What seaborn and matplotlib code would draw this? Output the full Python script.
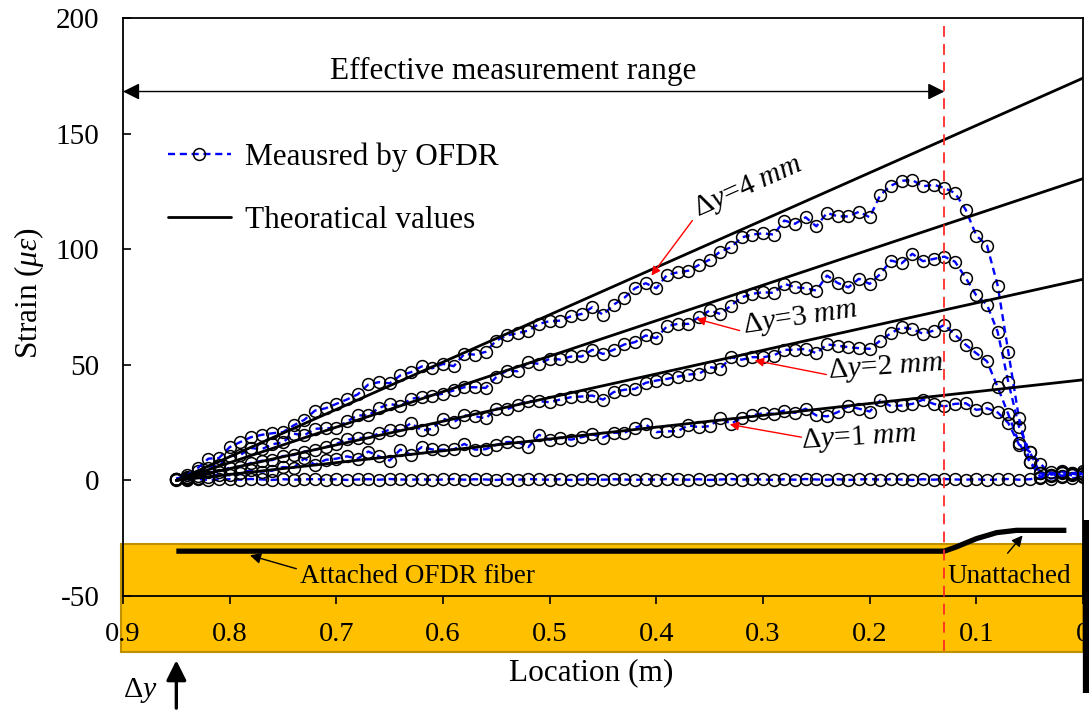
import matplotlib
matplotlib.use("Agg")
import matplotlib.pyplot as plt
import numpy as np
import pandas as pd
import seaborn as sns
from matplotlib.patches import Rectangle
from matplotlib.lines import Line2D

# ---------------- data ----------------
location = [0.85, 0.84, 0.83, 0.82, 0.81, 0.80, 0.79, 0.78, 0.77, 0.76,
            0.75, 0.74, 0.73, 0.72, 0.71, 0.70, 0.69, 0.68, 0.67, 0.66,
            0.65, 0.64, 0.63, 0.62, 0.61, 0.60, 0.59, 0.58, 0.57, 0.56,
            0.55, 0.54, 0.53, 0.52, 0.51, 0.50, 0.49, 0.48, 0.47, 0.46,
            0.45, 0.44, 0.43, 0.42, 0.41, 0.40, 0.39, 0.38, 0.37, 0.36,
            0.35, 0.34, 0.33, 0.32, 0.31, 0.30, 0.29, 0.28, 0.27, 0.26,
            0.25, 0.24, 0.23, 0.22, 0.21, 0.20, 0.19, 0.18, 0.17, 0.16,
            0.15, 0.14, 0.13, 0.12, 0.11, 0.10, 0.09, 0.08, 0.07, 0.06,
            0.05, 0.04, 0.03, 0.02, 0.01, 0.00]

measured_dy0 = [0.5, 0.3, 0.6, 0.2, 0.4, 0.5, 0.3, 0.6, 0.4, 0.2,
                0.5, 0.3, 0.4, 0.6, 0.3, 0.5, 0.2, 0.4, 0.5, 0.3,
                0.6, 0.4, 0.3, 0.5, 0.2, 0.4, 0.6, 0.3, 0.5, 0.4,
                0.2, 0.5, 0.3, 0.6, 0.4, 0.3, 0.5, 0.2, 0.4, 0.6,
                0.3, 0.5, 0.4, 0.2, 0.5, 0.3, 0.6, 0.4, 0.3, 0.5,
                0.2, 0.4, 0.6, 0.3, 0.5, 0.4, 0.2, 0.5, 0.3, 0.6,
                0.4, 0.3, 0.5, 0.2, 0.4, 0.6, 0.3, 0.5, 0.4, 0.2,
                0.5, 0.3, 0.6, 0.4, 0.3, 0.5, 0.2, 0.4, 0.6, 0.3,
                0.5, 1.2, 0.8, 1.5, 1.0, 1.3]

measured_dy1 = [0.3, 0.6, 1.0, 1.5, 2.5, 2.2, 3.0, 4.5, 3.8, 4.2,
                5.8, 5.5, 9.5, 6.8, 8.9, 9.4, 10.4, 9.4, 12.5, 10.4,
                8.6, 13.3, 11.1, 14.4, 13.4, 13.3, 13.4, 15.8, 13.3, 13.5,
                15.4, 16.6, 16.6, 14.4, 19.7, 17.6, 18.5, 17.6, 18.7, 19.9,
                18.5, 20.6, 20.6, 22.8, 24.2, 20.9, 21.2, 21.3, 23.8, 23.0,
                23.5, 26.9, 24.5, 27.1, 28.1, 29.1, 28.8, 30.2, 29.2, 31.0,
                28.1, 27.7, 29.5, 32.1, 31.0, 29.8, 34.6, 32.1, 32.4, 33.1,
                34.9, 33.1, 32.0, 33.1, 33.4, 30.5, 31.2, 29.4, 24.8, 15.5,
                12.4, 7.3, 2.5, 4.0, 3.0, 4.2]

measured_dy2 = [0.5, 1.2, 2.0, 3.5, 3.8, 5.5, 6.0, 7.5, 8.5, 8.8,
                10.5, 11.0, 12.5, 13.2, 14.4, 15.8, 17.7, 18.4, 18.3, 20.4,
                21.9, 21.6, 24.8, 21.6, 22.3, 26.7, 25.2, 28.1, 27.8, 26.8,
                31.0, 30.7, 32.8, 34.3, 34.3, 33.8, 35.0, 36.0, 36.3, 36.7,
                34.9, 38.2, 39.2, 39.6, 42.2, 43.2, 43.9, 44.9, 45.8, 46.1,
                49.0, 48.3, 53.3, 52.2, 53.3, 53.3, 54.0, 56.5, 56.5, 56.9,
                55.0, 58.8, 58.3, 57.6, 57.2, 56.9, 60.5, 63.7, 66.2, 65.5,
                63.4, 64.8, 67.3, 63.0, 58.7, 55.0, 51.5, 40.4, 28.6, 16.3,
                8.0, 1.5, 3.5, 2.0, 3.0, 1.8]

measured_dy3 = [0.8, 1.5, 4.0, 5.5, 6.5, 10.5, 11.0, 14.0, 13.5, 15.6,
                16.5, 20.2, 19.5, 22.3, 22.6, 22.6, 25.5, 28.1, 28.1, 31.3,
                33.1, 32.1, 35.3, 36.0, 36.7, 37.5, 38.9, 40.3, 40.3, 40.0,
                44.7, 47.5, 47.2, 51.1, 50.4, 52.6, 52.3, 53.6, 53.6, 56.5,
                54.7, 56.5, 58.8, 59.8, 62.7, 61.5, 66.7, 67.7, 67.7, 70.6,
                73.5, 72.0, 75.6, 79.2, 80.7, 81.4, 81.1, 85.0, 83.6, 83.1,
                82.1, 88.6, 85.4, 83.5, 87.2, 85.0, 89.3, 95.1, 93.9, 98.0,
                94.8, 95.8, 96.8, 94.6, 87.6, 80.0, 76.0, 64.2, 42.5, 23.2,
                12.4, 3.0, 2.0, 3.0, 2.2, 2.8]

measured_dy4 = [0.7, 2.2, 5.3, 9.4, 9.7, 14.4, 16.6, 18.7, 19.7, 20.4,
                20.9, 23.8, 26.2, 30.2, 31.2, 33.1, 35.0, 37.2, 41.5, 42.5,
                42.0, 45.4, 46.8, 49.3, 48.5, 50.4, 49.4, 54.7, 54.4, 55.6,
                60.5, 62.7, 63.7, 64.8, 67.7, 68.9, 69.1, 71.0, 72.0, 74.9,
                71.6, 76.0, 79.0, 83.1, 85.3, 83.1, 88.9, 90.0, 90.7, 93.2,
                95.5, 99.0, 100.8, 105.1, 106.3, 106.9, 106.3, 112.4, 111.0, 113.8,
                109.9, 115.7, 114.2, 114.2, 116.2, 113.8, 123.5, 127.5, 129.6, 129.9,
                127.2, 127.9, 126.5, 124.3, 117.1, 105.9, 101.6, 84.3, 55.5, 26.8,
                8.1, 3.0, 2.5, 3.5, 2.8, 3.2]

theory_location = [0.85, 0.0]
theory_dy1 = [0.0, 43.5]
theory_dy2 = [0.0, 87.0]
theory_dy3 = [0.0, 130.5]
theory_dy4 = [0.0, 174.0]

boundary_location = 0.13          # end of attached fiber
fiber_location = [0.85, 0.13, 0.119, 0.10, 0.081, 0.0625, 0.0156]
fiber_level = [-30.6, -30.6, -28.8, -25.2, -22.6, -21.6, -21.6]

x_ticks = [0.9, 0.8, 0.7, 0.6, 0.5, 0.4, 0.3, 0.2, 0.1, 0.0]
x_tick_labels = ["0.9", "0.8", "0.7", "0.6", "0.5", "0.4", "0.3", "0.2", "0.1", "0"]
y_ticks = [-50, 0, 50, 100, 150, 200]

# ---------------- style ----------------
sns.set_theme(style="ticks", rc={
    "axes.edgecolor": "black", "text.color": "black",
    "axes.labelcolor": "black", "xtick.color": "black", "ytick.color": "black",
})
plt.rcParams["font.family"] = ["Liberation Serif", "DejaVu Serif"]
plt.rcParams["axes.unicode_minus"] = False
plt.rcParams["mathtext.fontset"] = "custom"
plt.rcParams["mathtext.rm"] = "Liberation Serif"
plt.rcParams["mathtext.it"] = "Liberation Serif:italic"
plt.rcParams["mathtext.bf"] = "Liberation Serif:bold"

fig = plt.figure(figsize=(10.89, 7.11), dpi=100)
ax = fig.add_axes([0.11295, 0.16174, 0.88154, 0.81294])

# ---------------- measured ----------------
meas = pd.concat([
    pd.DataFrame({"loc": location, "strain": vals, "series": name})
    for name, vals in [("0", measured_dy0), ("1", measured_dy1), ("2", measured_dy2),
                       ("3", measured_dy3), ("4", measured_dy4)]
], ignore_index=True)

sns.lineplot(data=meas, x="loc", y="strain", units="series", estimator=None, sort=False,
             color="#0000FF", linestyle=(0, (3, 2)), linewidth=1.7,
             marker="o", markersize=8.5, markerfacecolor="none",
             markeredgecolor="black", markeredgewidth=1.1,
             legend=False, ax=ax, zorder=3)

# ---------------- theory ----------------
theo = pd.concat([
    pd.DataFrame({"loc": theory_location, "strain": vals, "dy": name})
    for name, vals in [("1", theory_dy1), ("2", theory_dy2), ("3", theory_dy3), ("4", theory_dy4)]
], ignore_index=True)
sns.lineplot(data=theo, x="loc", y="strain", units="dy", estimator=None, sort=False,
             color="black", linewidth=2.0, legend=False, ax=ax, zorder=4)

# ---------------- axes ----------------
ax.set_xlim(0.9, 0.0)
ax.set_ylim(-50, 200)
ax.set_xticks(x_ticks)
ax.set_xticklabels(x_tick_labels)
ax.set_yticks(y_ticks)
ax.tick_params(axis="x", direction="out", length=5.5, width=1.2, pad=13, labelsize=20.5)
ax.tick_params(axis="y", direction="in", length=6, width=1.2, pad=17, labelsize=21)
for s in ax.spines.values():
    s.set_visible(True)
    s.set_linewidth(1.3)
    s.set_color("black")

ax.set_xlabel("Location (m)", fontsize=22.5)
ax.xaxis.set_label_coords(0.488, -0.107)
ax.set_ylabel(r"Strain ($\mu\varepsilon$)", fontsize=22.5)
ax.yaxis.set_label_coords(-0.080, 0.524)

# orange specimen band
ax.add_patch(Rectangle((0.0, -74.2), 0.902, 46.7, facecolor="#FFC000",
                       edgecolor="#BF9000", linewidth=1.5, clip_on=False, zorder=0.5))

# fiber
ax.plot(fiber_location, fiber_level, color="black", lw=3.8, zorder=5,
        solid_capstyle="butt")

# boundary line
ax.plot([boundary_location, boundary_location], [196.5, -74.2], color="#FF2A2A",
        ls=(0, (6, 4)), lw=1.3, clip_on=False, zorder=6)

# right fixed end bar
ax.plot([-0.0028, -0.0028], [-17.3, -92.0], color="black", lw=4.5,
        clip_on=False, solid_capstyle="butt", zorder=7)

# effective range
ax.annotate("", xy=(0.9, 168.2), xytext=(boundary_location, 168.2),
            arrowprops=dict(arrowstyle="<|-|>", color="black", lw=1.0,
                            mutation_scale=25, shrinkA=0, shrinkB=0))
ax.text(0.534, 173.7, "Effective measurement range", ha="center", va="baseline",
        fontsize=22.5)

# legend
handles = [Line2D([], [], color="#0000FF", ls=(0, (3, 2)), lw=1.7, marker="o", ms=8.5,
                  mfc="none", mec="black", mew=1.1),
           Line2D([], [], color="black", lw=2.0)]
ax.legend(handles, ["Meausred by OFDR", "Theoratical values"], loc="upper left",
          bbox_to_anchor=(0.047, 0.785), frameon=False, fontsize=22.5,
          handlelength=2.0, handletextpad=0.45, labelspacing=1.08,
          borderpad=0, borderaxespad=0)

# delta-y labels with red arrows
labels = [
    (r"$\mathrm{\Delta}y$=4 $mm$", (0.3145, 126.6), 24, (0.4046, 88.6), (0.3662, 112.4)),
    (r"$\mathrm{\Delta}y$=3 $mm$", (0.2656, 70.2), 8.5, (0.3625, 69.9), (0.3219, 64.8)),
    (r"$\mathrm{\Delta}y$=2 $mm$", (0.185, 48.8), 4, (0.3078, 51.9), (0.2406, 45.8)),
    (r"$\mathrm{\Delta}y$=1 $mm$", (0.2102, 18.4), 3.5, (0.3312, 24.2), (0.2640, 18.7)),
]
for txt, pos, rot, head, tail in labels:
    ax.text(pos[0], pos[1], txt, ha="center", va="center", rotation=rot,
            rotation_mode="anchor", fontsize=21.5, zorder=8)
    ax.annotate("", xy=head, xytext=tail,
                arrowprops=dict(arrowstyle="-|>", color="red", lw=1.0,
                                mutation_scale=13, shrinkA=0, shrinkB=0), zorder=8)

# fiber labels
ax.text(0.7344, -41.5, "Attached OFDR fiber", ha="left", va="center", fontsize=19.5, zorder=8)
ax.annotate("", xy=(0.781, -32.4), xytext=(0.7375, -38.2),
            arrowprops=dict(arrowstyle="-|>", color="black", lw=1.0,
                            mutation_scale=16, shrinkA=0, shrinkB=0), zorder=8)
ax.text(0.127, -41.5, "Unattached", ha="left", va="center", fontsize=19.5, zorder=8)
ax.annotate("", xy=(0.0566, -23.8), xytext=(0.0707, -31.5),
            arrowprops=dict(arrowstyle="-|>", color="black", lw=1.0,
                            mutation_scale=16, shrinkA=0, shrinkB=0), zorder=8)

# delta-y loading arrow
ax.annotate("", xy=(0.85, -77.8), xytext=(0.85, -98.5),
            arrowprops=dict(arrowstyle="-|>", color="black", lw=2.4,
                            mutation_scale=30, shrinkA=0, shrinkB=0),
            annotation_clip=False)
ax.text(0.8839, -91.0, r"$\mathrm{\Delta}y$", ha="center", va="center", fontsize=21.5,
        clip_on=False)

fig.savefig("out.png", dpi=100)
